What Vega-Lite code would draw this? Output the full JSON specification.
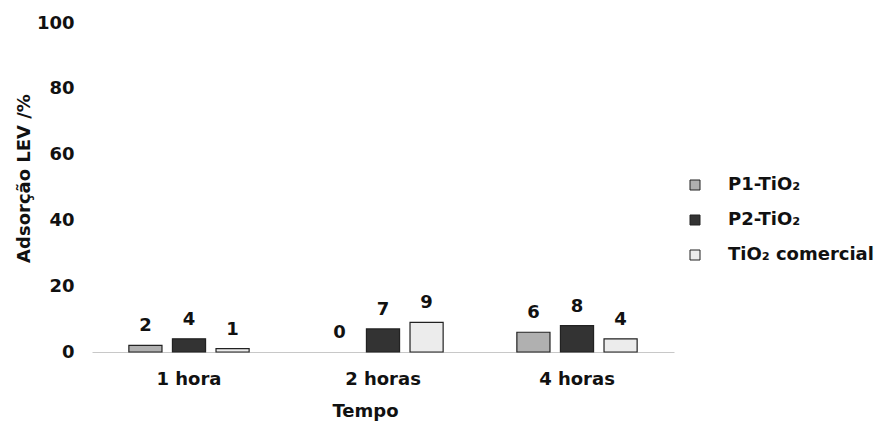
{
  "$schema": "https://vega.github.io/schema/vega-lite/v6.json",
  "width": 582,
  "height": 329,
  "autosize": {"type": "none"},
  "padding": {"left": 92, "top": 23, "right": 206, "bottom": 69},
  "background": "white",
  "config": {"view": {"stroke": null}, "font": "DejaVu Sans"},
  "data": {
    "values": [
      {"tempo": "1 hora", "amostra": "P1-TiO₂", "valor": 2},
      {"tempo": "1 hora", "amostra": "P2-TiO₂", "valor": 4},
      {"tempo": "1 hora", "amostra": "TiO₂ comercial", "valor": 1},
      {"tempo": "2 horas", "amostra": "P1-TiO₂", "valor": 0},
      {"tempo": "2 horas", "amostra": "P2-TiO₂", "valor": 7},
      {"tempo": "2 horas", "amostra": "TiO₂ comercial", "valor": 9},
      {"tempo": "4 horas", "amostra": "P1-TiO₂", "valor": 6},
      {"tempo": "4 horas", "amostra": "P2-TiO₂", "valor": 8},
      {"tempo": "4 horas", "amostra": "TiO₂ comercial", "valor": 4}
    ]
  },
  "encoding": {
    "x": {
      "field": "tempo",
      "type": "nominal",
      "sort": ["1 hora", "2 horas", "4 horas"],
      "scale": {"paddingInner": 0.38, "paddingOuter": 0.19},
      "title": "Tempo",
      "axis": {
        "domainColor": "#c8c8c8",
        "ticks": false,
        "labelAngle": 0,
        "labelFontSize": 18,
        "labelFontWeight": "bold",
        "labelPadding": 18,
        "labelColor": "#111111",
        "titleFontSize": 18,
        "titleFontWeight": "bold",
        "titleColor": "#111111",
        "titleX": 273,
        "titleY": 64,
        "titleBaseline": "alphabetic"
      }
    },
    "xOffset": {
      "field": "amostra",
      "type": "nominal",
      "sort": ["P1-TiO₂", "P2-TiO₂", "TiO₂ comercial"],
      "scale": {"paddingInner": 0.24, "paddingOuter": 0}
    },
    "y": {
      "field": "valor",
      "type": "quantitative",
      "scale": {"domain": [0, 100]},
      "title": "Adsorção LEV /%",
      "axis": {
        "domain": false,
        "ticks": false,
        "grid": false,
        "values": [0, 20, 40, 60, 80, 100],
        "labelFontSize": 18,
        "labelFontWeight": "bold",
        "labelPadding": 18,
        "labelColor": "#111111",
        "titleFontSize": 18,
        "titleFontWeight": "bold",
        "titleColor": "#111111",
        "titleAngle": -90,
        "titleAlign": "center",
        "titleBaseline": "middle",
        "titleX": -68,
        "titleY": 155
      }
    }
  },
  "layer": [
    {
      "mark": {"type": "bar", "stroke": "#222222", "strokeWidth": 1.2},
      "encoding": {
        "fill": {
          "field": "amostra",
          "type": "nominal",
          "scale": {
            "domain": ["P1-TiO₂", "P2-TiO₂", "TiO₂ comercial"],
            "range": ["#b0b0b0", "#333333", "#ececec"]
          },
          "legend": {
            "orient": "none",
            "legendX": 594,
            "legendY": 153,
            "title": null,
            "padding": 0,
            "symbolType": "square",
            "symbolSize": 100,
            "symbolStrokeColor": "#222222",
            "symbolStrokeWidth": 1,
            "labelFontSize": 18,
            "labelFontWeight": "bold",
            "labelColor": "#111111",
            "labelOffset": 24,
            "rowPadding": 17
          }
        },
        "strokeOpacity": {
          "condition": {"test": "datum.valor == 0", "value": 0},
          "value": 1
        }
      }
    },
    {
      "mark": {
        "type": "text",
        "dy": -14,
        "baseline": "alphabetic",
        "fontSize": 18,
        "fontWeight": "bold",
        "color": "#111111"
      },
      "encoding": {
        "text": {"field": "valor", "type": "quantitative"}
      }
    }
  ]
}
